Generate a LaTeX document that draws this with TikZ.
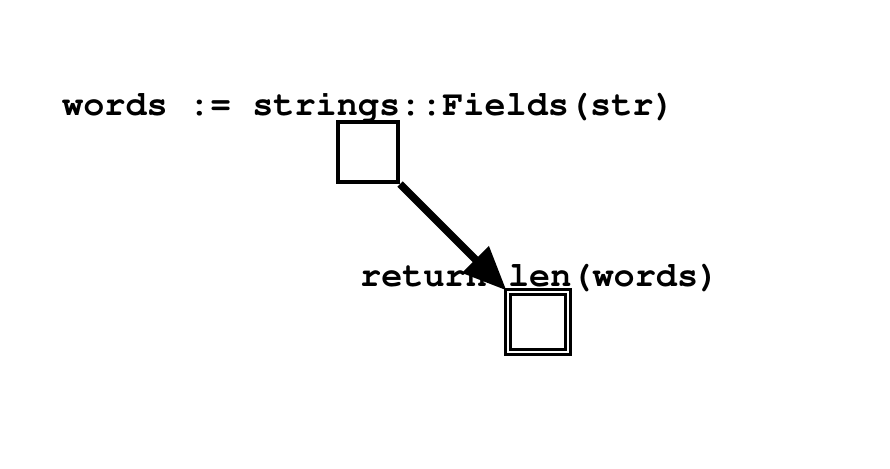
\documentclass[tikz,border=0pt]{standalone}
\usetikzlibrary{arrows.meta}
\newcommand{\codefont}{\fontencoding{T1}\fontfamily{pcr}\fontseries{b}\selectfont}

\begin{document}
\begin{tikzpicture}[x=1pt,y=-1pt,
  code/.style={font=\codefont\fontsize{35.2}{40}\selectfont,inner sep=0pt,anchor=base west},
  state/.style={draw,line width=4pt,minimum size=60pt,inner sep=0pt},
  final/.style={draw,line width=3pt,double,double distance=2.5pt,minimum size=60pt,inner sep=0pt},
  trans/.style={line width=7.5pt,-{Triangle[length=44pt,width=36pt]}}]
\useasboundingbox (0,0) rectangle (890,468);
\node[code] (lbl1) at (62,115) {words := strings::Fields(str)};
\node[code] (lbl2) at (360,286) {return len(words)};
\node[state] (s1) at (368,152) {};
\node[final] (s2) at (538,322) {};
\draw[trans] (s1.south east) -- (s2.north west);
\end{tikzpicture}
\end{document}
